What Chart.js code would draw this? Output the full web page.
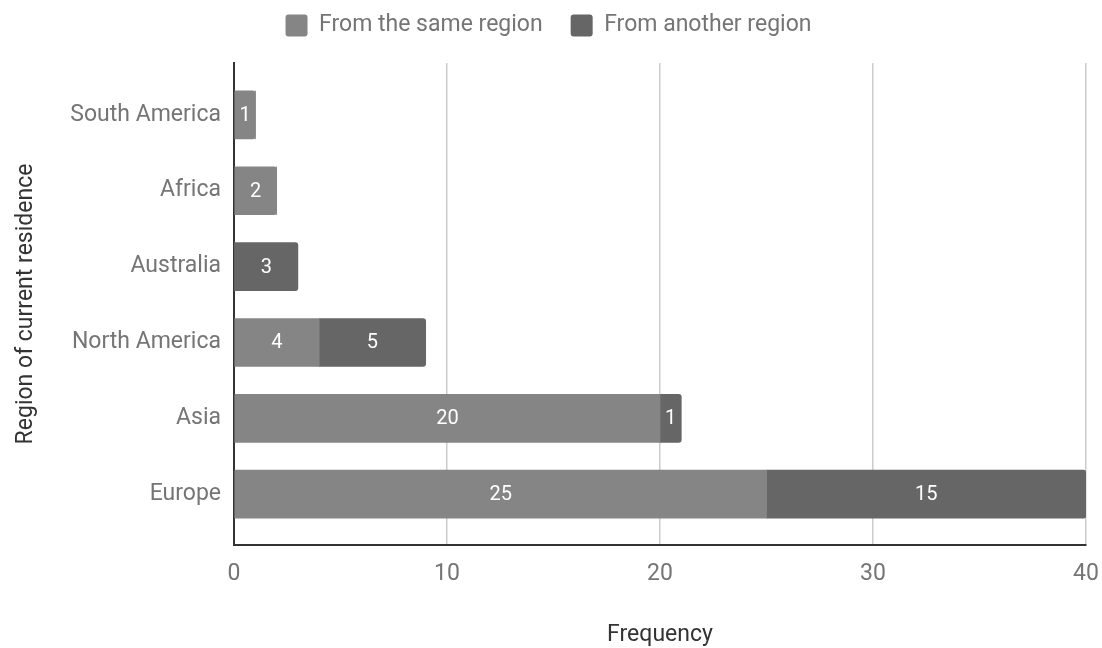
<!DOCTYPE html>
<html>
<head>
<meta charset="utf-8">
<script src="https://cdn.jsdelivr.net/npm/chart.js@4/dist/chart.umd.min.js"></script>
<style>
  html, body { margin: 0; padding: 0; background: #ffffff; }
  #wrap { width: 1102px; height: 648px; position: relative; }
</style>
</head>
<body>
<div id="wrap"><canvas id="chart"></canvas></div>
<script>
// Regions, top to bottom
const regions = ['South America', 'Africa', 'Australia', 'North America', 'Asia', 'Europe'];
// Respondents whose origin is the same region as their residence
const sameRegion = [1, 2, 0, 4, 20, 25];
// Respondents who came from another region
const otherRegion = [0, 0, 3, 5, 1, 15];
// Frequency axis ticks
const freqTicks = [0, 10, 20, 30, 40];

const toPoints = arr => arr.map((v, i) => ({ x: v, y: i }));

// Writes each segment's value inside it
const segmentLabels = {
  id: 'segmentLabels',
  afterDatasetsDraw(chart) {
    const ctx = chart.ctx;
    ctx.save();
    ctx.font = '20px Roboto';
    ctx.fillStyle = '#ffffff';
    ctx.textAlign = 'center';
    ctx.textBaseline = 'middle';
    chart.data.datasets.forEach((ds, di) => {
      const meta = chart.getDatasetMeta(di);
      meta.data.forEach((bar, i) => {
        const v = ds.data[i].x;
        if (!v) return;
        const p = bar.getCenterPoint();
        ctx.fillText(String(v), p.x, p.y + 1);
      });
    });
    ctx.restore();
  }
};

// Extra room below the legend row before the plot starts
const legendGap = {
  id: 'legendGap',
  beforeInit(chart) {
    const legend = chart.legend;
    if (!legend) return;
    const fit = legend.fit;
    legend.fit = function () {
      fit.call(this);
      this.height += 16;
    };
  }
};

new Chart(document.getElementById('chart'), {
  type: 'bar',
  data: {
    datasets: [
      {
        label: 'From the same region',
        data: toPoints(sameRegion),
        backgroundColor: '#858585',
        borderRadius: 3,
        barThickness: 48
      },
      {
        label: 'From another region',
        data: toPoints(otherRegion),
        backgroundColor: '#666666',
        borderRadius: 3,
        barThickness: 48
      }
    ]
  },
  options: {
    indexAxis: 'y',
    responsive: true,
    maintainAspectRatio: false,
    animation: false,
    layout: { padding: { top: -14, right: 5, bottom: 0, left: 0 } },
    plugins: {
      legend: {
        position: 'top',
        labels: {
          font: { family: 'Roboto', size: 23 },
          color: '#757575',
          boxWidth: 22,
          boxHeight: 22,
          padding: 28,
          useBorderRadius: true,
          borderRadius: 3
        }
      },
      tooltip: { enabled: false }
    },
    scales: {
      x: {
        type: 'linear',
        stacked: true,
        min: 0,
        max: 40,
        afterBuildTicks: s => { s.ticks = freqTicks.map(v => ({ value: v })); },
        ticks: {
          font: { family: 'Roboto', size: 23 },
          color: '#757575',
          padding: 15
        },
        grid: { color: '#cccccc', lineWidth: 1.5, drawTicks: false },
        border: { color: '#333333', width: 2 },
        title: {
          display: true,
          text: 'Frequency',
          font: { family: 'Roboto', size: 23, lineHeight: 1.1 },
          color: '#333333',
          padding: { top: 30, bottom: 0 }
        },
        afterFit: s => { s.height = 103; s.paddingRight = 16; }
      },
      y: {
        type: 'linear',
        stacked: true,
        reverse: true,
        offset: false,
        min: -0.684,
        max: 5.67,
        afterBuildTicks: s => { s.ticks = regions.map((_, i) => ({ value: i })); },
        ticks: {
          font: { family: 'Roboto', size: 23 },
          color: '#757575',
          padding: 13,
          callback: v => regions[v]
        },
        grid: { display: false, drawTicks: false, offset: false },
        border: { color: '#333333', width: 2 },
        title: {
          display: true,
          text: 'Region of current residence',
          font: { family: 'Roboto', size: 23 },
          color: '#333333',
          padding: { top: 12, bottom: 0 }
        },
        afterFit: s => { s.width = 234; }
      }
    }
  },
  plugins: [segmentLabels, legendGap]
});
</script>
</body>
</html>
